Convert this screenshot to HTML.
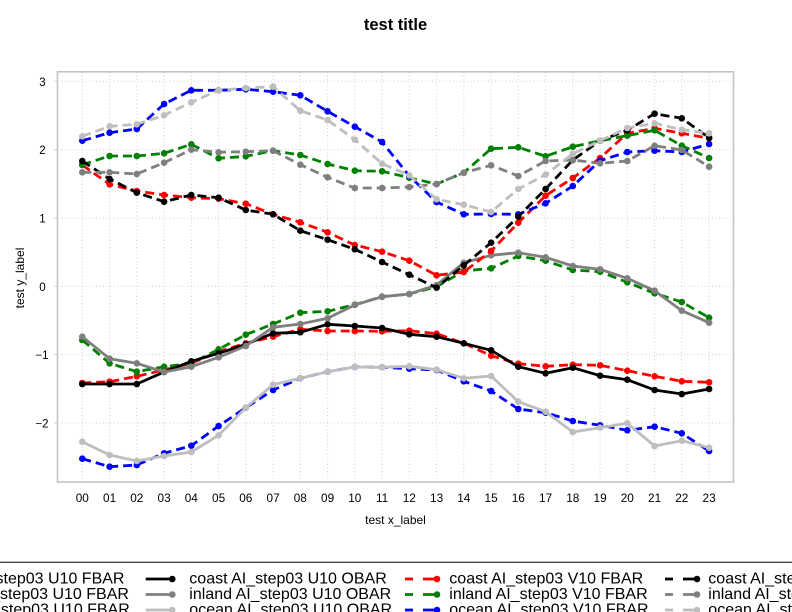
<!DOCTYPE html>
<html><head><meta charset="utf-8"><style>
html,body{margin:0;padding:0;background:#fff;}
svg{display:block;}
text{font-family:"Liberation Sans",Arial,sans-serif;fill:#000;}
</style></head><body>
<svg width="792" height="612" viewBox="0 0 792 612" xmlns="http://www.w3.org/2000/svg">
<defs>
<marker id="mr" markerUnits="userSpaceOnUse" markerWidth="10" markerHeight="10" refX="5" refY="5"><circle cx="5" cy="5" r="3.3" fill="#ff0000"/></marker>
<marker id="mg" markerUnits="userSpaceOnUse" markerWidth="10" markerHeight="10" refX="5" refY="5"><circle cx="5" cy="5" r="3.3" fill="#008000"/></marker>
<marker id="mb" markerUnits="userSpaceOnUse" markerWidth="10" markerHeight="10" refX="5" refY="5"><circle cx="5" cy="5" r="3.3" fill="#0000ff"/></marker>
<marker id="mk" markerUnits="userSpaceOnUse" markerWidth="10" markerHeight="10" refX="5" refY="5"><circle cx="5" cy="5" r="3.3" fill="#000000"/></marker>
<marker id="my" markerUnits="userSpaceOnUse" markerWidth="10" markerHeight="10" refX="5" refY="5"><circle cx="5" cy="5" r="3.3" fill="#7f7f7f"/></marker>
<marker id="ml" markerUnits="userSpaceOnUse" markerWidth="10" markerHeight="10" refX="5" refY="5"><circle cx="5" cy="5" r="3.3" fill="#bebebe"/></marker>
</defs>

<text x="395.5" y="30" font-size="16.5" font-weight="bold" text-anchor="middle">test title</text>

<!-- grid -->
<g stroke="#cfcfcf" stroke-width="1" stroke-dasharray="1,2.5" fill="none">
<line x1="57.5" x2="733.5" y1="81.3" y2="81.3"/>
<line x1="57.5" x2="733.5" y1="149.6" y2="149.6"/>
<line x1="57.5" x2="733.5" y1="218" y2="218"/>
<line x1="57.5" x2="733.5" y1="286.3" y2="286.3"/>
<line x1="57.5" x2="733.5" y1="354.6" y2="354.6"/>
<line x1="57.5" x2="733.5" y1="423" y2="423"/>
<line x1="82.3" x2="82.3" y1="72" y2="482"/>
<line x1="109.6" x2="109.6" y1="72" y2="482"/>
<line x1="136.8" x2="136.8" y1="72" y2="482"/>
<line x1="164.1" x2="164.1" y1="72" y2="482"/>
<line x1="191.3" x2="191.3" y1="72" y2="482"/>
<line x1="218.6" x2="218.6" y1="72" y2="482"/>
<line x1="245.8" x2="245.8" y1="72" y2="482"/>
<line x1="273.1" x2="273.1" y1="72" y2="482"/>
<line x1="300.3" x2="300.3" y1="72" y2="482"/>
<line x1="327.6" x2="327.6" y1="72" y2="482"/>
<line x1="354.8" x2="354.8" y1="72" y2="482"/>
<line x1="382.1" x2="382.1" y1="72" y2="482"/>
<line x1="409.3" x2="409.3" y1="72" y2="482"/>
<line x1="436.6" x2="436.6" y1="72" y2="482"/>
<line x1="463.8" x2="463.8" y1="72" y2="482"/>
<line x1="491.1" x2="491.1" y1="72" y2="482"/>
<line x1="518.3" x2="518.3" y1="72" y2="482"/>
<line x1="545.6" x2="545.6" y1="72" y2="482"/>
<line x1="572.8" x2="572.8" y1="72" y2="482"/>
<line x1="600.1" x2="600.1" y1="72" y2="482"/>
<line x1="627.3" x2="627.3" y1="72" y2="482"/>
<line x1="654.6" x2="654.6" y1="72" y2="482"/>
<line x1="681.8" x2="681.8" y1="72" y2="482"/>
<line x1="709.1" x2="709.1" y1="72" y2="482"/>
</g>

<!-- frame -->
<rect x="57.5" y="71.8" width="676" height="410.2" fill="none" stroke="#c4c4c4" stroke-width="1.6"/>
<g stroke="#c4c4c4" stroke-width="1">
<line x1="54.5" x2="57.5" y1="81.3" y2="81.3"/>
<line x1="54.5" x2="57.5" y1="149.6" y2="149.6"/>
<line x1="54.5" x2="57.5" y1="218" y2="218"/>
<line x1="54.5" x2="57.5" y1="286.3" y2="286.3"/>
<line x1="54.5" x2="57.5" y1="354.6" y2="354.6"/>
<line x1="54.5" x2="57.5" y1="423" y2="423"/>
</g>

<!-- y tick labels -->
<g font-size="11.5" text-anchor="middle">
<text x="42.5" y="85.8">3</text>
<text x="42.5" y="154.1">2</text>
<text x="42.5" y="222.5">1</text>
<text x="42.5" y="290.8">0</text>
<text x="42" y="359.1">−1</text>
<text x="42" y="427.5">−2</text>
</g>
<!-- x tick labels -->
<g font-size="11.8" text-anchor="middle">
<text x="82.3" y="502">00</text><text x="109.6" y="502">01</text><text x="136.8" y="502">02</text><text x="164.1" y="502">03</text>
<text x="191.3" y="502">04</text><text x="218.6" y="502">05</text><text x="245.8" y="502">06</text><text x="273.1" y="502">07</text>
<text x="300.3" y="502">08</text><text x="327.6" y="502">09</text><text x="354.8" y="502">10</text><text x="382.1" y="502">11</text>
<text x="409.3" y="502">12</text><text x="436.6" y="502">13</text><text x="463.8" y="502">14</text><text x="491.1" y="502">15</text>
<text x="518.3" y="502">16</text><text x="545.6" y="502">17</text><text x="572.8" y="502">18</text><text x="600.1" y="502">19</text>
<text x="627.3" y="502">20</text><text x="654.6" y="502">21</text><text x="681.8" y="502">22</text><text x="709.1" y="502">23</text>
</g>
<text x="395.5" y="524" font-size="12" text-anchor="middle">test x_label</text>
<text x="24" y="278" font-size="12" text-anchor="middle" transform="rotate(-90 24 278)">test y_label</text>

<!-- series -->
<g fill="none" stroke-width="2.8" stroke-linejoin="round">
<!-- U10 FBAR (dashed colored) -->
<polyline stroke="#ff0000" stroke-dasharray="9,5" marker-start="url(#mr)" marker-mid="url(#mr)" marker-end="url(#mr)" points="82.3,383 109.6,381.7 136.8,376.3 164.1,370 191.3,363.3 218.6,351.7 245.8,343.3 273.1,336.7 300.3,329.3 327.6,331 354.8,331 382.1,331.3 409.3,330.7 436.6,333.7 463.8,343.3 491.1,355.7 518.3,363.7 545.6,366.3 572.8,364.7 600.1,365.3 627.3,370.7 654.6,376.3 681.8,381.3 709.1,382.3"/>
<polyline stroke="#008000" stroke-dasharray="9,5" marker-start="url(#mg)" marker-mid="url(#mg)" marker-end="url(#mg)" points="82.3,340 109.6,363.3 136.8,371.7 164.1,366.7 191.3,363.3 218.6,349.3 245.8,334.7 273.1,324 300.3,312.7 327.6,311.3 354.8,304.7 382.1,296.7 409.3,294 436.6,286.7 463.8,271 491.1,268.3 518.3,256 545.6,260.7 572.8,270 600.1,271.7 627.3,282.3 654.6,293.3 681.8,302 709.1,317.7"/>
<polyline stroke="#0000ff" stroke-dasharray="9,5" marker-start="url(#mb)" marker-mid="url(#mb)" marker-end="url(#mb)" points="82.3,458.7 109.6,466.7 136.8,465 164.1,453.3 191.3,445.7 218.6,426 245.8,407.7 273.1,390 300.3,378.3 327.6,371.7 354.8,367 382.1,367.3 409.3,368.7 436.6,370 463.8,381.3 491.1,391 518.3,409 545.6,412.7 572.8,421 600.1,425.3 627.3,430.3 654.6,426.7 681.8,433.3 709.1,451"/>
<!-- U10 OBAR (solid) -->
<polyline stroke="#000000" marker-start="url(#mk)" marker-mid="url(#mk)" marker-end="url(#mk)" points="82.3,384 109.6,384 136.8,384 164.1,372 191.3,361.3 218.6,353.3 245.8,344.3 273.1,333.3 300.3,332.3 327.6,324.3 354.8,326 382.1,328 409.3,334.3 436.6,336.7 463.8,343.3 491.1,350.3 518.3,366.7 545.6,373.3 572.8,367.7 600.1,375.7 627.3,379.7 654.6,390 681.8,394 709.1,389"/>
<polyline stroke="#7f7f7f" marker-start="url(#my)" marker-mid="url(#my)" marker-end="url(#my)" points="82.3,336.7 109.6,358.7 136.8,363.3 164.1,372 191.3,366.7 218.6,357.3 245.8,346 273.1,327.3 300.3,324 327.6,318.3 354.8,305 382.1,296.7 409.3,294 436.6,285 463.8,262.7 491.1,255.3 518.3,252.7 545.6,257.3 572.8,266 600.1,269.3 627.3,278.3 654.6,290.7 681.8,310.7 709.1,322.7"/>
<polyline stroke="#bebebe" marker-start="url(#ml)" marker-mid="url(#ml)" marker-end="url(#ml)" points="82.3,441.7 109.6,455 136.8,461 164.1,456 191.3,452 218.6,435.3 245.8,407.7 273.1,384.7 300.3,378.3 327.6,371.7 354.8,367 382.1,367.3 409.3,366.3 436.6,369.7 463.8,378.3 491.1,376 518.3,401.7 545.6,411.7 572.8,432 600.1,427.7 627.3,423.3 654.6,446 681.8,440.7 709.1,447.7"/>
<!-- V10 FBAR (dashed colored) -->
<polyline stroke="#ff0000" stroke-dasharray="9,5" marker-start="url(#mr)" marker-mid="url(#mr)" marker-end="url(#mr)" points="82.3,165 109.6,184.3 136.8,191 164.1,195 191.3,197.7 218.6,198.7 245.8,203.7 273.1,214.3 300.3,222.3 327.6,232.3 354.8,245 382.1,251.7 409.3,260.7 436.6,275.3 463.8,272 491.1,251 518.3,222.7 545.6,195.7 572.8,178 600.1,158 627.3,133.3 654.6,128.3 681.8,133.3 709.1,138.3"/>
<polyline stroke="#008000" stroke-dasharray="9,5" marker-start="url(#mg)" marker-mid="url(#mg)" marker-end="url(#mg)" points="82.3,164.7 109.6,156 136.8,156 164.1,153.3 191.3,144.3 218.6,158.3 245.8,156.3 273.1,150.7 300.3,155 327.6,164 354.8,170.7 382.1,171.3 409.3,177.7 436.6,184 463.8,172.7 491.1,148.7 518.3,147.3 545.6,156.3 572.8,146.7 600.1,140.7 627.3,135.7 654.6,130.3 681.8,145.7 709.1,158"/>
<polyline stroke="#0000ff" stroke-dasharray="9,5" marker-start="url(#mb)" marker-mid="url(#mb)" marker-end="url(#mb)" points="82.3,140.7 109.6,132.7 136.8,129 164.1,104 191.3,90.3 218.6,90.3 245.8,89.3 273.1,91.7 300.3,95.3 327.6,111.3 354.8,126.7 382.1,142 409.3,176 436.6,202 463.8,214.3 491.1,214 518.3,214.3 545.6,203.3 572.8,186 600.1,160.7 627.3,152 654.6,150.7 681.8,152 709.1,144"/>
<!-- V10 OBAR (dashed gray tones) -->
<polyline stroke="#000000" stroke-dasharray="9,5" marker-start="url(#mk)" marker-mid="url(#mk)" marker-end="url(#mk)" points="82.3,161 109.6,179 136.8,192.7 164.1,201.7 191.3,195 218.6,197.7 245.8,210 273.1,214.3 300.3,230.7 327.6,239.7 354.8,249.3 382.1,262 409.3,274.7 436.6,287.7 463.8,265.3 491.1,242.7 518.3,216.7 545.6,189 572.8,160 600.1,140.7 627.3,130.3 654.6,113.7 681.8,118.3 709.1,137.7"/>
<polyline stroke="#7f7f7f" stroke-dasharray="9,5" marker-start="url(#my)" marker-mid="url(#my)" marker-end="url(#my)" points="82.3,172.3 109.6,172.3 136.8,174 164.1,162.7 191.3,149.7 218.6,152.3 245.8,151.7 273.1,150.7 300.3,164.7 327.6,177.3 354.8,188 382.1,188 409.3,187 436.6,184 463.8,172.7 491.1,165.3 518.3,176 545.6,161 572.8,160 600.1,163.3 627.3,161 654.6,145.7 681.8,150 709.1,166.7"/>
<polyline stroke="#bebebe" stroke-dasharray="9,5" marker-start="url(#ml)" marker-mid="url(#ml)" marker-end="url(#ml)" points="82.3,136.3 109.6,126.3 136.8,124.3 164.1,115.3 191.3,102.3 218.6,90.3 245.8,88 273.1,86.7 300.3,110.7 327.6,120 354.8,139.7 382.1,163.7 409.3,175.3 436.6,199.3 463.8,204.7 491.1,212 518.3,189 545.6,174.7 572.8,153.7 600.1,140.7 627.3,128 654.6,123.3 681.8,129.7 709.1,133.3"/>
</g>

<!-- legend -->
<line x1="0" x2="792" y1="562.3" y2="562.3" stroke="#000" stroke-width="1"/>
<g font-size="16">
<text x="-70.3" y="583.5">coast AI_step03 U10 FBAR</text>
<text x="-70.3" y="599">inland AI_step03 U10 FBAR</text>
<text x="-70.3" y="614.5">ocean AI_step03 U10 FBAR</text>
<text x="189.3" y="583.5">coast AI_step03 U10 OBAR</text>
<text x="189.3" y="599">inland AI_step03 U10 OBAR</text>
<text x="189.3" y="614.5">ocean AI_step03 U10 OBAR</text>
<text x="449.3" y="583.5">coast AI_step03 V10 FBAR</text>
<text x="449.3" y="599">inland AI_step03 V10 FBAR</text>
<text x="449.3" y="614.5">ocean AI_step03 V10 FBAR</text>
<text x="708.3" y="583.5">coast AI_step03 V10 OBAR</text>
<text x="708.3" y="599">inland AI_step03 V10 OBAR</text>
<text x="708.3" y="614.5">ocean AI_step03 V10 OBAR</text>
</g>
<g stroke-width="2.8" fill="none">
<line x1="145.7" x2="172.3" y1="579" y2="579" stroke="#000"/>
<line x1="145.7" x2="172.3" y1="594.5" y2="594.5" stroke="#7f7f7f"/>
<line x1="145.7" x2="172.3" y1="610" y2="610" stroke="#bebebe"/>
<line x1="405" x2="413" y1="579" y2="579" stroke="#ff0000"/><line x1="423" x2="437" y1="579" y2="579" stroke="#ff0000"/>
<line x1="405" x2="413" y1="594.5" y2="594.5" stroke="#008000"/><line x1="423" x2="437" y1="594.5" y2="594.5" stroke="#008000"/>
<line x1="405" x2="413" y1="610" y2="610" stroke="#0000ff"/><line x1="423" x2="437" y1="610" y2="610" stroke="#0000ff"/>
<line x1="665" x2="673" y1="579" y2="579" stroke="#000"/><line x1="683" x2="697" y1="579" y2="579" stroke="#000"/>
<line x1="665" x2="673" y1="594.5" y2="594.5" stroke="#7f7f7f"/><line x1="683" x2="697" y1="594.5" y2="594.5" stroke="#7f7f7f"/>
<line x1="665" x2="673" y1="610" y2="610" stroke="#bebebe"/><line x1="683" x2="697" y1="610" y2="610" stroke="#bebebe"/>
</g>
<circle cx="172.3" cy="579" r="3.3" fill="#000"/>
<circle cx="172.3" cy="594.5" r="3.3" fill="#7f7f7f"/>
<circle cx="172.3" cy="610" r="3.3" fill="#bebebe"/>
<circle cx="437" cy="579" r="3.3" fill="#ff0000"/>
<circle cx="437" cy="594.5" r="3.3" fill="#008000"/>
<circle cx="437" cy="610" r="3.3" fill="#0000ff"/>
<circle cx="697" cy="579" r="3.3" fill="#000"/>
<circle cx="697" cy="594.5" r="3.3" fill="#7f7f7f"/>
<circle cx="697" cy="610" r="3.3" fill="#bebebe"/>
</svg>
</body></html>
